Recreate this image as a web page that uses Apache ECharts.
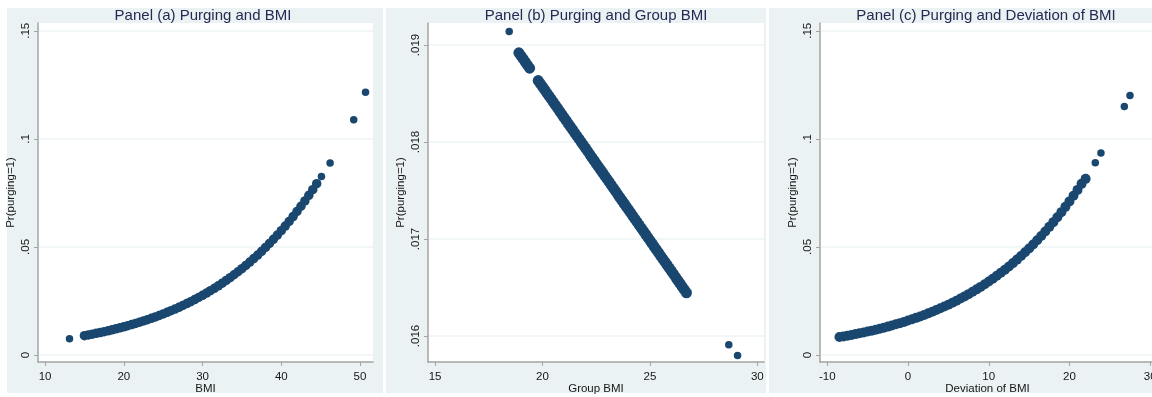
<!DOCTYPE html>
<html>
<head>
<meta charset="utf-8">
<script src="https://cdn.jsdelivr.net/npm/echarts@6/dist/echarts.min.js"></script>
<style>
html,body{margin:0;padding:0;background:#ffffff;}
#chart{width:1152px;height:397px;}
</style>
</head>
<body>
<div id="chart"></div>
<script>
// ---------- Panel (a): Purging and BMI ----------
const bmiBand = [15,15.5,16,16.5,17,17.5,18,18.5,19,19.5,20,20.5,21,21.5,22,22.5,23,23.5,24,24.5,25,25.5,26,26.5,27,27.5,28,28.5,29,29.5,30,30.5,31,31.5,32,32.5,33,33.5,34,34.5,35,35.5,36,36.5,37,37.5,38,38.5,39,39.5,40,40.5,41,41.5,42,42.5,43,43.5,44,44.5];
const prBandA = [0.00894,0.00928,0.00964,0.01001,0.01040,0.01080,0.01121,0.01165,0.01209,0.01256,0.01304,0.01355,0.01407,0.01460,0.01517,0.01575,0.01635,0.01698,0.01763,0.01830,0.01900,0.01973,0.02048,0.02127,0.02208,0.02292,0.02379,0.02469,0.02563,0.02660,0.02761,0.02865,0.02974,0.03086,0.03202,0.03323,0.03448,0.03578,0.03712,0.03851,0.03995,0.04146,0.04299,0.04460,0.04625,0.04796,0.04975,0.05160,0.05350,0.05546,0.05750,0.05963,0.06180,0.06406,0.06640,0.06882,0.07128,0.07386,0.07651,0.07924];
const bmiIso = [13.1,45.1,46.2,49.2,50.7];
const prIsoA = [0.0075,0.0826,0.0888,0.1088,0.1216];
const xTicksA = [10,20,30,40,50];
const xLabelsA = ['10','20','30','40','50'];
const yTicksA = [0,0.05,0.1,0.15];
const yLabelsA = ['0','.05','.1','.15'];

// ---------- Panel (b): Purging and Group BMI ----------
const gbmiBand = [18.9,19.0,19.1,19.2,19.3,19.4,
  19.8,19.9,20.0,20.1,20.2,20.3,20.4,20.5,20.6,20.7,20.8,20.9,21.0,21.1,21.2,21.3,21.4,21.5,21.6,21.7,21.8,21.9,
  22.0,22.1,22.2,22.3,22.4,22.5,22.6,22.7,22.8,22.9,23.0,23.1,23.2,23.3,23.4,23.5,23.6,23.7,23.8,23.9,
  24.0,24.1,24.2,24.3,24.4,24.5,24.6,24.7,24.8,24.9,25.0,25.1,25.2,25.3,25.4,25.5,25.6,25.7,25.8,25.9,
  26.0,26.1,26.2,26.3,26.4,26.5,26.6,26.7];
const prBandB = [0.018919,0.018888,0.018856,0.018824,0.018792,0.018761,
  0.018634,0.018602,0.018571,0.018539,0.018507,0.018475,0.018444,0.018412,0.018380,0.018349,0.018317,0.018285,0.018254,0.018222,0.018190,0.018158,0.018127,0.018095,0.018063,0.018032,0.018000,0.017968,
  0.017937,0.017905,0.017873,0.017841,0.017810,0.017778,0.017746,0.017715,0.017683,0.017651,0.017620,0.017588,0.017556,0.017524,0.017493,0.017461,0.017429,0.017398,0.017366,0.017334,
  0.017303,0.017271,0.017239,0.017207,0.017176,0.017144,0.017112,0.017081,0.017049,0.017017,0.016986,0.016954,0.016922,0.016890,0.016859,0.016827,0.016795,0.016764,0.016732,0.016700,
  0.016669,0.016637,0.016605,0.016573,0.016542,0.016510,0.016478,0.016446];
const gbmiIso = [18.45,28.67,29.08];
const prIsoB = [0.01914,0.01591,0.01580];
const xTicksB = [15,20,25,30];
const xLabelsB = ['15','20','25','30'];
const yTicksB = [0.016,0.017,0.018,0.019];
const yLabelsB = ['.016','.017','.018','.019'];

// ---------- Panel (c): Purging and Deviation of BMI ----------
const devBand = [-8.5,-8,-7.5,-7,-6.5,-6,-5.5,-5,-4.5,-4,-3.5,-3,-2.5,-2,-1.5,-1,-0.5,0,0.5,1,1.5,2,2.5,3,3.5,4,4.5,5,5.5,6,6.5,7,7.5,8,8.5,9,9.5,10,10.5,11,11.5,12,12.5,13,13.5,14,14.5,15,15.5,16,16.5,17,17.5,18,18.5,19,19.5,20,20.5,21,21.5,22];
const prBandC = [0.00829,0.00861,0.00895,0.00930,0.00967,0.01005,0.01044,0.01085,0.01127,0.01172,0.01217,0.01265,0.01314,0.01366,0.01419,0.01474,0.01531,0.01592,0.01654,0.01718,0.01785,0.01854,0.01926,0.02001,0.02079,0.02159,0.02243,0.02330,0.02420,0.02513,0.02610,0.02711,0.02815,0.02923,0.03037,0.03151,0.03272,0.03398,0.03527,0.03663,0.03802,0.03946,0.04097,0.04252,0.04413,0.04579,0.04751,0.04931,0.05115,0.05308,0.05507,0.05714,0.05928,0.06146,0.06373,0.06609,0.06854,0.07107,0.07369,0.07639,0.07918,0.08150];
const devIso = [23.2,23.9,26.8,27.5];
const prIsoC = [0.0890,0.0934,0.1150,0.1200];
const xTicksC = [-10,0,10,20,30];
const xLabelsC = ['-10','0','10','20','30'];
const yTicksC = [0,0.05,0.1,0.15];
const yLabelsC = ['0','.05','.1','.15'];

const titles = ['Panel (a) Purging and BMI','Panel (b) Purging and Group BMI','Panel (c) Purging and Deviation of BMI'];
const xNames = ['BMI','Group BMI','Deviation of BMI'];
const yName = 'Pr(purging=1)';

// ---------- styling / layout ----------
const FONT = '"Liberation Sans", Arial, Helvetica, sans-serif';
const NAVY = '#1a476f';
const AXIS = '#a4a4a4';
const TXT = '#161616';
const BG = '#eaf2f3';

const grids = [
  {left:38, right:779, top:23, bottom:35},
  {left:428, right:388, top:23, bottom:35},
  {left:820, right:-3, top:23, bottom:35}
];
const xRanges = [[9.1,51.65],[14.67,30.31],[-10.91,30.6]];
const yRanges = [[-0.00324,0.1536],[0.015732,0.019227],[-0.00324,0.1536]];
const xTicks = [xTicksA,xTicksB,xTicksC];
const xLabels = [xLabelsA,xLabelsB,xLabelsC];
const yTicks = [yTicksA,yTicksB,yTicksC];
const yLabels = [yLabelsA,yLabelsB,yLabelsC];
const titleX = [203, 596, 986];
const bandSize = [9.5, 11, 10];

function fmt(ticks, labels){
  return function(v){
    for (let i=0;i<ticks.length;i++){ if (Math.abs(ticks[i]-v) < 1e-9) return labels[i]; }
    return '';
  };
}

const option = {
  backgroundColor:'#ffffff',
  animation:false,
  graphic:{elements:[
    {type:'rect', z:-100, shape:{x:7,y:8,width:376,height:385}, style:{fill:BG}},
    {type:'rect', z:-100, shape:{x:386,y:8,width:380,height:385}, style:{fill:BG}},
    {type:'rect', z:-100, shape:{x:769,y:8,width:383,height:385}, style:{fill:BG}}
  ]},
  title: titles.map((t,i)=>({
    text:t, left:titleX[i], top:8, textAlign:'center', padding:0,
    textStyle:{fontFamily:FONT, fontSize:15, fontWeight:'normal', color:'#252a52'}
  })),
  grid: grids.map(g=>Object.assign({show:true, backgroundColor:'#ffffff', borderWidth:0,
    containLabel:false, outerBoundsMode:'none'}, g)),
  xAxis: [0,1,2].map(i=>({
    gridIndex:i, type:'value', min:xRanges[i][0], max:xRanges[i][1],
    name:xNames[i], nameLocation:'middle', nameGap:21, nameMoveOverlap:false,
    nameTextStyle:{fontFamily:FONT, fontSize:11.5, color:TXT},
    axisLine:{show:true, onZero:false, lineStyle:{color:AXIS, width:1.5}},
    axisTick:{show:true, length:4, customValues:xTicks[i], lineStyle:{color:AXIS, width:1}},
    axisLabel:{show:true, customValues:xTicks[i], formatter:fmt(xTicks[i],xLabels[i]), margin:9,
      fontFamily:FONT, fontSize:11.5, color:TXT},
    splitLine:{show:false}
  })),
  yAxis: [0,1,2].map(i=>({
    gridIndex:i, type:'value', min:yRanges[i][0], max:yRanges[i][1],
    name:yName, nameLocation:'middle', nameGap:21,
    nameTextStyle:{fontFamily:FONT, fontSize:11.5, color:TXT},
    axisLine:{show:true, onZero:false, lineStyle:{color:AXIS, width:1.5}},
    axisTick:{show:true, length:4, customValues:yTicks[i], lineStyle:{color:AXIS, width:1}},
    axisLabel:{show:true, customValues:yTicks[i], formatter:fmt(yTicks[i],yLabels[i]), rotate:90, margin:6,
      fontFamily:FONT, fontSize:11.5, color:TXT},
    splitLine:{show:true, lineStyle:{color:'#edf3f4', width:1.5}}
  })),
  series: [
    {type:'scatter', xAxisIndex:0, yAxisIndex:0, symbolSize:bandSize[0], silent:true,
     itemStyle:{color:NAVY, opacity:1}, data:bmiBand.map((x,i)=>[x,prBandA[i]])},
    {type:'scatter', xAxisIndex:0, yAxisIndex:0, symbolSize:7.5, silent:true,
     itemStyle:{color:NAVY, opacity:1}, data:bmiIso.map((x,i)=>[x,prIsoA[i]])},
    {type:'scatter', xAxisIndex:1, yAxisIndex:1, symbolSize:bandSize[1], silent:true,
     itemStyle:{color:NAVY, opacity:1}, data:gbmiBand.map((x,i)=>[x,prBandB[i]])},
    {type:'scatter', xAxisIndex:1, yAxisIndex:1, symbolSize:7.5, silent:true,
     itemStyle:{color:NAVY, opacity:1}, data:gbmiIso.map((x,i)=>[x,prIsoB[i]])},
    {type:'scatter', xAxisIndex:2, yAxisIndex:2, symbolSize:bandSize[2], silent:true,
     itemStyle:{color:NAVY, opacity:1}, data:devBand.map((x,i)=>[x,prBandC[i]])},
    {type:'scatter', xAxisIndex:2, yAxisIndex:2, symbolSize:7.5, silent:true,
     itemStyle:{color:NAVY, opacity:1}, data:devIso.map((x,i)=>[x,prIsoC[i]])}
  ]
};

const chart = echarts.init(document.getElementById('chart'), null, {renderer:'canvas'});
chart.setOption(option);
</script>
</body>
</html>
